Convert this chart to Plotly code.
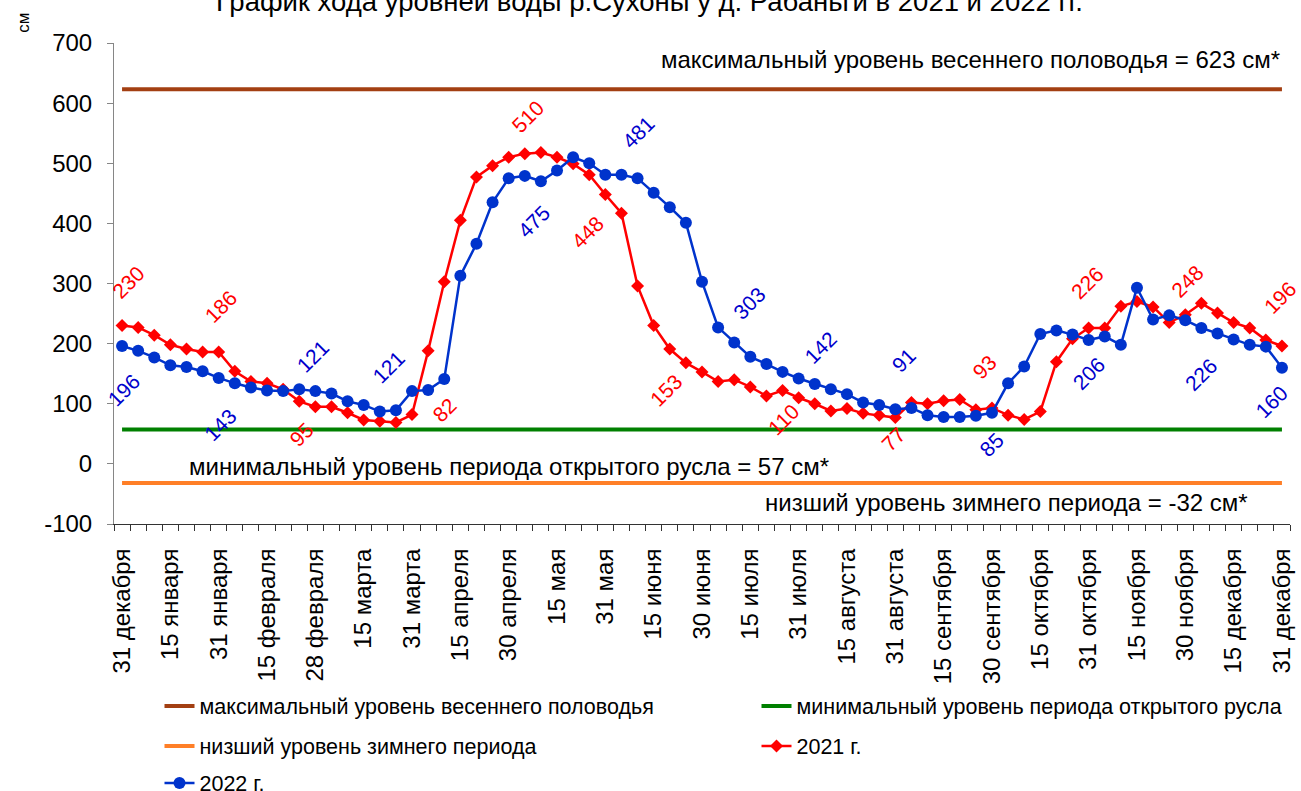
import plotly.graph_objects as go

TITLE = "График хода уровней воды р.Сухоны у д. Рабаньги в 2021 и 2022 гг."
Y_UNIT = "см"

TICK_LABELS = ["31 декабря", "15 января", "31 января", "15 февраля", "28 февраля",
               "15 марта", "31 марта", "15 апреля", "30 апреля", "15 мая",
               "31 мая", "15 июня", "30 июня", "15 июля", "31 июля",
               "15 августа", "31 августа", "15 сентября", "30 сентября", "15 октября",
               "31 октября", "15 ноября", "30 ноября", "15 декабря", "31 декабря"]

Y_TICKS = [-100, 0, 100, 200, 300, 400, 500, 600, 700]
Y_TICK_LABELS = ["-100", "0", "100", "200", "300", "400", "500", "600", "700"]

LEVEL_2021 = [230, 227, 214, 198, 191, 186, 186, 154, 137, 134,
              124, 104, 95, 95, 85, 73, 71, 69, 82, 188,
              303, 405, 477, 496, 510, 516, 518, 510, 499, 481,
              448, 417, 296, 230, 191, 168, 153, 137, 140, 128,
              113, 122, 110, 100, 88, 92, 84, 81, 77, 102,
              100, 105, 107, 90, 93, 81, 74, 87, 170, 208,
              226, 226, 262, 270, 261, 235, 248, 267, 251, 235,
              226, 206, 196]

LEVEL_2022 = [196, 188, 177, 164, 161, 154, 143, 134, 127, 122,
              121, 124, 121, 117, 104, 98, 87, 89, 121, 123,
              141, 313, 366, 435, 475, 479, 470, 488, 510, 500,
              481, 481, 475, 451, 427, 401, 303, 227, 202, 178,
              166, 153, 142, 133, 124, 116, 102, 98, 91, 93,
              81, 78, 78, 80, 85, 134, 162, 216, 222, 215,
              206, 212, 198, 293, 240, 247, 239, 226, 217, 207,
              198, 195, 160]

MAX_SPRING = 623
MIN_OPEN = 57
MIN_WINTER = -32

NAME_MAX = "максимальный уровень весеннего половодья"
NAME_MIN = "минимальный уровень периода открытого русла"
NAME_LOW = "низший уровень зимнего периода"
NAME_2021 = "2021 г."
NAME_2022 = "2022 г."

TEXT_MAX = "максимальный уровень весеннего половодья = 623 см*"
TEXT_MIN = "минимальный уровень периода открытого русла = 57 см*"
TEXT_LOW = "низший уровень зимнего периода = -32 см*"

LABEL_IDX_2021 = [0, 6, 12, 18, 24, 30, 36, 42, 48, 54, 60, 66, 72]
LABEL_IDX_2022 = [0, 6, 12, 18, 24, 30, 36, 42, 48, 54, 60, 67, 72]

# label offsets in pixels (dx right, dy down) -- styling only
OFF_2021 = [(6, -43), (2, -46), (-14, 28), (32, -4), (19, -41), (-18, 38), (-36, 19),
            (-15, 22), (-2, 22), (-7, -41), (-1, -45), (2, -33), (-2, -49)]
OFF_2022 = [(1, 44), (2, 47), (-3, -35), (-24, -24), (25, 43), (33, -42), (47, 22),
            (22, -31), (8, -49), (0, 32), (0, 33), (0, 47), (-10, 34)]

FONT = "Liberation Sans, Arial, sans-serif"
RED = "#FF0000"
BLUE = "#0033CC"
BLUE_TXT = "#0000CC"
BROWN = "#A33F12"
GREEN = "#008000"
ORANGE = "#FF7F27"

n = len(LEVEL_2021)
x = list(range(n))
xe = [x[0], x[-1]]

fig = go.Figure()
fig.add_trace(go.Scatter(x=xe, y=[MAX_SPRING] * 2, mode="lines", name=NAME_MAX,
                         line=dict(color=BROWN, width=4), legend="legend"))
fig.add_trace(go.Scatter(x=xe, y=[MIN_OPEN] * 2, mode="lines", name=NAME_MIN,
                         line=dict(color=GREEN, width=4), legend="legend2"))
fig.add_trace(go.Scatter(x=xe, y=[MIN_WINTER] * 2, mode="lines", name=NAME_LOW,
                         line=dict(color=ORANGE, width=4), legend="legend3"))
fig.add_trace(go.Scatter(x=x, y=LEVEL_2021, mode="lines+markers", name=NAME_2021,
                         line=dict(color=RED, width=2.5),
                         marker=dict(symbol="diamond", size=10, color=RED), legend="legend4"))
fig.add_trace(go.Scatter(x=x, y=LEVEL_2022, mode="lines+markers", name=NAME_2022,
                         line=dict(color=BLUE, width=2.5),
                         marker=dict(symbol="circle", size=12, color=BLUE), legend="legend5"))

ann = []
for (i, (dx, dy)) in zip(LABEL_IDX_2021, OFF_2021):
    ann.append(dict(x=i, y=LEVEL_2021[i], text=str(LEVEL_2021[i]), showarrow=False,
                    textangle=-45, xshift=dx, yshift=-dy,
                    font=dict(color=RED, size=21, family=FONT)))
for (i, (dx, dy)) in zip(LABEL_IDX_2022, OFF_2022):
    ann.append(dict(x=i, y=LEVEL_2022[i], text=str(LEVEL_2022[i]), showarrow=False,
                    textangle=-45, xshift=dx, yshift=-dy,
                    font=dict(color=BLUE_TXT, size=21, family=FONT)))

ann.append(dict(x=x[-1], y=MAX_SPRING, text=TEXT_MAX, showarrow=False, xanchor="right",
                yanchor="middle", yshift=30, font=dict(size=24, color="#000", family=FONT)))
ann.append(dict(x=x[0], y=MIN_OPEN, text=TEXT_MIN, showarrow=False, xanchor="left",
                yanchor="middle", xshift=65, yshift=-37, font=dict(size=24, color="#000", family=FONT)))
ann.append(dict(x=x[-1], y=MIN_WINTER, text=TEXT_LOW, showarrow=False, xanchor="right",
                yanchor="middle", xshift=-32, yshift=-19, font=dict(size=24, color="#000", family=FONT)))
ann.append(dict(xref="paper", yref="paper", x=0.455, y=1.050, text=TITLE, showarrow=False,
                xanchor="center", yanchor="bottom", font=dict(size=27.5, color="#000", family=FONT)))
ann.append(dict(xref="paper", yref="paper", x=-0.077, y=1.043, text=Y_UNIT, showarrow=False,
                textangle=-90, xanchor="center", yanchor="middle",
                font=dict(size=17, color="#000", family=FONT)))


def leg(xc, yc):
    return dict(orientation="h", xref="container", yref="container",
                xanchor="left", yanchor="middle", x=xc, y=yc,
                bgcolor="rgba(0,0,0,0)", borderwidth=0,
                font=dict(size=21.5, family=FONT, color="#000"))


COL1, COL2 = 159.5 / 1301, 756.5 / 1301
ROW1, ROW2, ROW3 = 1 - 706 / 791, 1 - 746 / 791, 1 - 783 / 791

fig.update_layout(
    width=1301, height=791, autosize=False,
    margin=dict(l=114, r=11, t=43, b=267, pad=0),
    paper_bgcolor="white", plot_bgcolor="white",
    font=dict(family=FONT, size=20, color="#000"),
    showlegend=True,
    legend=leg(COL1, ROW1),
    legend2=leg(COL2, ROW1),
    legend3=leg(COL1, ROW2),
    legend4=leg(COL2, ROW2),
    legend5=leg(COL1, ROW3),
    annotations=ann,
    xaxis=dict(range=[-0.5, n - 0.5], tickmode="array", tickvals=x[::3], ticktext=TICK_LABELS,
               tickangle=-90, ticks="", showgrid=False, zeroline=False, showline=True,
               automargin=False,
               linecolor="#333333", linewidth=1, ticklabelstandoff=14,
               tickfont=dict(size=24, family=FONT, color="#000"),
               minor=dict(tickmode="array", tickvals=[k - 0.5 for k in range(n + 1)],
                          ticks="outside", ticklen=6, tickcolor="#333333", showgrid=False)),
    yaxis=dict(range=[-100, 700], tickmode="array", tickvals=Y_TICKS, ticktext=Y_TICK_LABELS,
               ticks="outside", ticklen=6, tickcolor="#868686", showgrid=False, zeroline=False,
               automargin=False,
               showline=True, linecolor="#868686", linewidth=1, ticklabelstandoff=10,
               tickfont=dict(size=24, family=FONT, color="#000")),
)

fig.write_html("out.html")
